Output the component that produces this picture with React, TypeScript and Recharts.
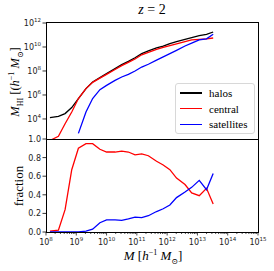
import React from 'react';
import { LineChart, Line, XAxis, YAxis } from 'recharts';

// halo mass bins, log10(M / h^-1 Msun)
const logMass = [8.13, 8.41, 8.63, 8.85, 9.07, 9.32, 9.54, 9.78, 10.0, 10.28, 10.5, 10.72, 10.94, 11.16, 11.38, 11.65, 11.87, 12.09, 12.31, 12.59, 12.81, 13.06, 13.3, 13.52];

// log10 M_HI
const halosHI = [4.12, 4.22, 4.45, 4.95, 5.7, 6.53, 7.08, 7.45, 7.78, 8.2, 8.53, 8.8, 9.1, 9.45, 9.67, 9.92, 10.08, 10.28, 10.45, 10.64, 10.78, 10.95, 11.06, 11.25];
const centralHI = [2.2, 2.56, 3.6, 4.58, 5.7, 6.53, 7.05, 7.4, 7.72, 8.12, 8.45, 8.72, 9.0, 9.35, 9.55, 9.8, 9.97, 10.12, 10.27, 10.45, 10.6, 10.64, 10.68, 10.75];
const satellitesHI = [null, null, null, null, 2.8, 4.58, 5.7, 6.44, 6.8, 7.22, 7.5, 7.72, 8.0, 8.33, 8.56, 8.9, 9.17, 9.45, 9.72, 10.08, 10.33, 10.6, 10.68, 11.06];

// fractions
const centralFrac = [0.01, 0.02, 0.24, 0.67, 0.9, 0.95, 0.95, 0.89, 0.86, 0.86, 0.87, 0.86, 0.83, 0.84, 0.82, 0.76, 0.72, 0.67, 0.58, 0.51, 0.42, 0.39, 0.47, 0.3];
const satellitesFrac = [0, 0, 0, 0, 0, 0.01, 0.03, 0.1, 0.13, 0.13, 0.125, 0.14, 0.16, 0.155, 0.175, 0.22, 0.25, 0.29, 0.37, 0.43, 0.48, 0.555, 0.455, 0.63];

const topTicks = [4, 6, 8, 10, 12];
const fracTicks = [0, 0.2, 0.4, 0.6, 0.8, 1.0];
const xMajor = [8, 9, 10, 11, 12, 13, 14, 15];

const seriesNames = ['halos', 'central', 'satellites'];
const seriesColors = ['#000000', '#ff0000', '#0000ff'];

const xTicks: number[] = [];
xMajor.forEach((d) => {
  xTicks.push(d);
  if (d < 15) for (let k = 2; k < 10; k++) xTicks.push(d + Math.log10(k));
});

const topData = logMass.map((m, i) => ({ m, halos: halosHI[i], central: centralHI[i], satellites: satellitesHI[i] }));
const fracData = logMass.map((m, i) => ({ m, central: centralFrac[i], satellites: satellitesFrac[i] }));

const PLOT_LEFT = 46;
const BOTTOM_TOP = 10; // extra room above the lower panel for the "1.0" label
const BOTTOM_AXIS_Y = BOTTOM_TOP + 93;
const tickFont = { fontFamily: 'DejaVu Sans', fontSize: 8, fill: '#222' };

const PowTick = (props: any) => {
  const { y, payload } = props;
  return (
    <g>
      <line x1={PLOT_LEFT - 3.5} x2={PLOT_LEFT} y1={y} y2={y} stroke="#000" strokeWidth={0.8} />
      <text x={PLOT_LEFT - 5} y={y + 3} textAnchor="end" {...tickFont}>
        10<tspan dy={-4} fontSize={5.5}>{payload.value}</tspan>
      </text>
    </g>
  );
};

const FracTick = (props: any) => {
  const { y, payload } = props;
  return (
    <g>
      <line x1={PLOT_LEFT - 3.5} x2={PLOT_LEFT} y1={y} y2={y} stroke="#000" strokeWidth={0.8} />
      <text x={PLOT_LEFT - 5} y={y + 3} textAnchor="end" {...tickFont}>
        {Number(payload.value).toFixed(1)}
      </text>
    </g>
  );
};

const MassTick = (props: any) => {
  const { x, payload } = props;
  const v = payload.value as number;
  const major = Math.abs(v - Math.round(v)) < 1e-6;
  return (
    <g>
      <line x1={x} x2={x} y1={BOTTOM_AXIS_Y} y2={BOTTOM_AXIS_Y + (major ? 3.5 : 2)} stroke="#000" strokeWidth={0.7} />
      {major && (
        <text x={x} y={BOTTOM_AXIS_Y + 13} textAnchor="middle" {...tickFont}>
          10<tspan dy={-4} fontSize={5.5}>{Math.round(v)}</tspan>
        </text>
      )}
    </g>
  );
};

const serif = '"Liberation Serif", "DejaVu Serif", serif';

export default function App() {
  return (
    <div style={{ position: 'absolute', left: 0, top: 0, width: 274, height: 271, background: '#fff', overflow: 'hidden' }}>
      {/* title */}
      <div style={{ position: 'absolute', left: 0, width: 304, top: 2, textAlign: 'center', fontFamily: serif, fontSize: 14 }}>
        <i>z</i> = 2
      </div>

      {/* top panel */}
      <div style={{ position: 'absolute', left: 0, top: 0 }}>
        <LineChart width={274} height={139} data={topData} margin={{ top: 23, right: 16, left: 0, bottom: 0 }}>
          <XAxis dataKey="m" type="number" domain={[8, 15]} hide />
          <YAxis type="number" domain={[2.33, 12]} allowDataOverflow ticks={topTicks} width={46} axisLine={false} tickLine={false} tick={<PowTick />} interval={0} />
          <Line dataKey="halos" stroke={seriesColors[0]} strokeWidth={1.3} dot={false} isAnimationActive={false} />
          <Line dataKey="central" stroke={seriesColors[1]} strokeWidth={1.3} dot={false} isAnimationActive={false} />
          <Line dataKey="satellites" stroke={seriesColors[2]} strokeWidth={1.3} dot={false} isAnimationActive={false} connectNulls={false} />
        </LineChart>
      </div>

      {/* bottom panel */}
      <div style={{ position: 'absolute', left: 0, top: 139 - BOTTOM_TOP }}>
        <LineChart width={274} height={132 + BOTTOM_TOP} data={fracData} margin={{ top: BOTTOM_TOP, right: 16, left: 0, bottom: 0 }}>
          <XAxis dataKey="m" type="number" domain={[8, 15]} ticks={xTicks} interval={0} height={39} axisLine={false} tickLine={false} tick={<MassTick />} />
          <YAxis type="number" domain={[0, 1]} ticks={fracTicks} width={46} axisLine={false} tickLine={false} tick={<FracTick />} interval={0} />
          <Line dataKey="central" stroke={seriesColors[1]} strokeWidth={1.3} dot={false} isAnimationActive={false} />
          <Line dataKey="satellites" stroke={seriesColors[2]} strokeWidth={1.3} dot={false} isAnimationActive={false} />
        </LineChart>
      </div>

      {/* frames */}
      <div style={{ position: 'absolute', left: 46, top: 22, width: 213, height: 118, border: '1px solid #000', boxSizing: 'border-box', pointerEvents: 'none' }} />
      <div style={{ position: 'absolute', left: 46, top: 139, width: 213, height: 94, border: '1px solid #000', boxSizing: 'border-box', pointerEvents: 'none' }} />

      {/* legend */}
      <div style={{ position: 'absolute', left: 175, top: 83, width: 80, height: 51, border: '1px solid #d8d8d8', borderRadius: 3, background: 'rgba(255,255,255,0.85)', boxSizing: 'border-box' }}>
        {seriesNames.map((name, i) => (
          <div key={name} style={{ position: 'absolute', left: 4, top: 3 + i * 15.7, height: 12, display: 'flex', alignItems: 'center' }}>
            <div style={{ width: 22, height: 1.4, background: seriesColors[i] }} />
            <span style={{ marginLeft: 7, fontFamily: serif, fontSize: 11, color: '#000', lineHeight: '12px' }}>{name}</span>
          </div>
        ))}
      </div>

      {/* axis titles */}
      <div style={{ position: 'absolute', left: 16, top: 82, transform: 'translate(-50%, -50%) rotate(-90deg)', whiteSpace: 'nowrap', fontFamily: serif, fontSize: 12.5 }}>
        <i>M</i><sub style={{ fontSize: 8 }}>HI</sub> [(<i>h</i><sup style={{ fontSize: 8 }}>−1</sup> <i>M</i><sub style={{ fontSize: 8 }}>⊙</sub>]
      </div>
      <div style={{ position: 'absolute', left: 19, top: 186, transform: 'translate(-50%, -50%) rotate(-90deg)', whiteSpace: 'nowrap', fontFamily: serif, fontSize: 13 }}>
        fraction
      </div>
      <div style={{ position: 'absolute', left: 0, width: 306, top: 248, textAlign: 'center', whiteSpace: 'nowrap', fontFamily: serif, fontSize: 13 }}>
        <i>M</i> [<i>h</i><sup style={{ fontSize: 8 }}>−1</sup> <i>M</i><sub style={{ fontSize: 8 }}>⊙</sub>]
      </div>
    </div>
  );
}
